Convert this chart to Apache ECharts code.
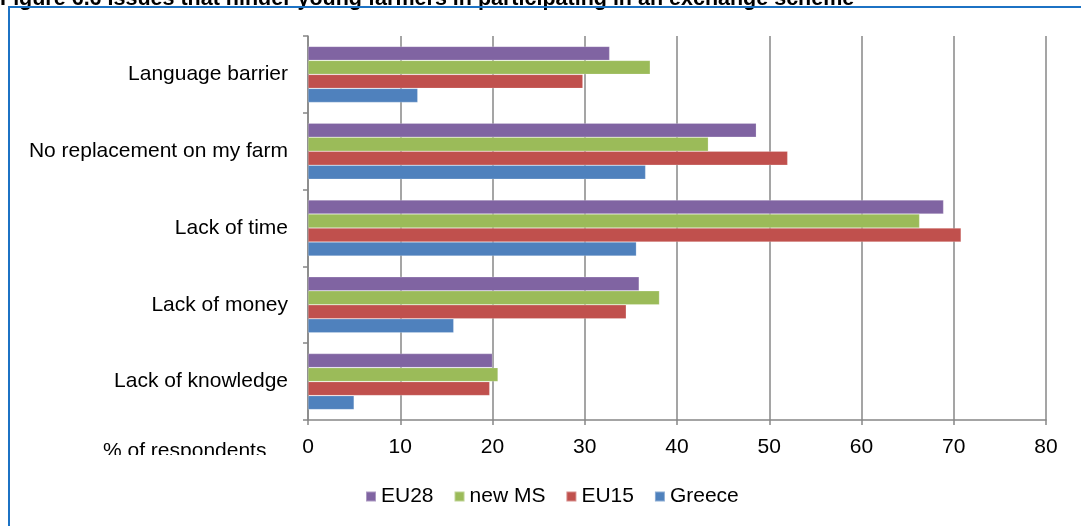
<!DOCTYPE html>
<html>
<head>
<meta charset="utf-8">
<script src="https://cdn.jsdelivr.net/npm/echarts@6/dist/echarts.min.js"></script>
<style>
  html, body { margin: 0; padding: 0; background: #fff; }
  #chart { width: 1081px; height: 526px; }
</style>
</head>
<body>
<div id="chart"></div>
<script>
// Issues named by young farmers, bottom-to-top order on the category axis
const categories = ['Lack of knowledge', 'Lack of money', 'Lack of time', 'No replacement on my farm', 'Language barrier'];

// % of respondents per group
const greece = [5.0, 15.8, 35.6, 36.6, 11.9];
const eu15   = [19.7, 34.5, 70.8, 52.0, 29.8];
const newMS  = [20.6, 38.1, 66.3, 43.4, 37.1];
const eu28   = [20.0, 35.9, 68.9, 48.6, 32.7];

const xTicks = [0, 10, 20, 30, 40, 50, 60, 70, 80];

const FONT = '"Liberation Sans", Arial, sans-serif';
const GRID_GRAY = '#878787';

const chart = echarts.init(document.getElementById('chart'), null, { renderer: 'canvas' });

function barSeries(name, data, color) {
  return {
    name: name,
    type: 'bar',
    data: data,
    barGap: '0%',
    barCategoryGap: '27%',
    itemStyle: { color: color, borderColor: 'rgba(255,255,255,0.35)', borderWidth: 0.6 },
    animation: false
  };
}

chart.setOption({
  animation: false,
  backgroundColor: '#ffffff',
  grid: { left: 308, right: 35, top: 36, bottom: 106, containLabel: false },
  xAxis: {
    type: 'value',
    min: xTicks[0],
    max: xTicks[xTicks.length - 1],
    interval: 10,
    axisLine: { show: true, lineStyle: { color: GRID_GRAY, width: 1.5 } },
    axisTick: { show: true, length: 5, lineStyle: { color: GRID_GRAY, width: 1.5 } },
    splitLine: { show: true, lineStyle: { color: GRID_GRAY, width: 1.5 } },
    axisLabel: { color: '#000', fontFamily: FONT, fontSize: 21, margin: 17 }
  },
  yAxis: {
    type: 'category',
    data: categories,
    axisLine: { show: true, lineStyle: { color: GRID_GRAY, width: 1.5 } },
    axisTick: { show: true, length: 5, lineStyle: { color: GRID_GRAY, width: 1.5 } },
    axisLabel: { color: '#000', fontFamily: FONT, fontSize: 21, margin: 20 }
  },
  legend: {
    data: ['EU28', 'new MS', 'EU15', 'Greece'],
    left: 360,
    top: 481,
    itemWidth: 10,
    itemHeight: 10,
    itemGap: 20,
    icon: 'rect',
    textStyle: { color: '#000', fontFamily: FONT, fontSize: 21 }
  },
  // series listed top-to-bottom within each category
  series: [
    barSeries('EU28', eu28, '#8064A2'),
    barSeries('new MS', newMS, '#9BBB59'),
    barSeries('EU15', eu15, '#C0504D'),
    barSeries('Greece', greece, '#4F81BD')
  ],
  graphic: [
    {
      type: 'text',
      left: 0,
      top: -12,
      style: {
        text: 'Figure 6.6 Issues that hinder young farmers in participating in an exchange scheme',
        fill: '#000',
        font: 'bold 21.5px ' + FONT
      }
    },
    {
      type: 'rect',
      shape: { x: 9, y: 7, width: 1200, height: 700 },
      style: { fill: 'none', stroke: '#1C72C4', lineWidth: 2 },
      silent: true
    },
    {
      type: 'text',
      left: 103,
      top: 441,
      z: 10,
      style: {
        text: '% of respondents',
        fill: '#000',
        font: '21px ' + FONT
      }
    },
    {
      type: 'rect',
      z: 100,
      shape: { x: 95, y: 455, width: 190, height: 16 },
      style: { fill: '#ffffff' },
      silent: true
    }
  ]
});
</script>
</body>
</html>
